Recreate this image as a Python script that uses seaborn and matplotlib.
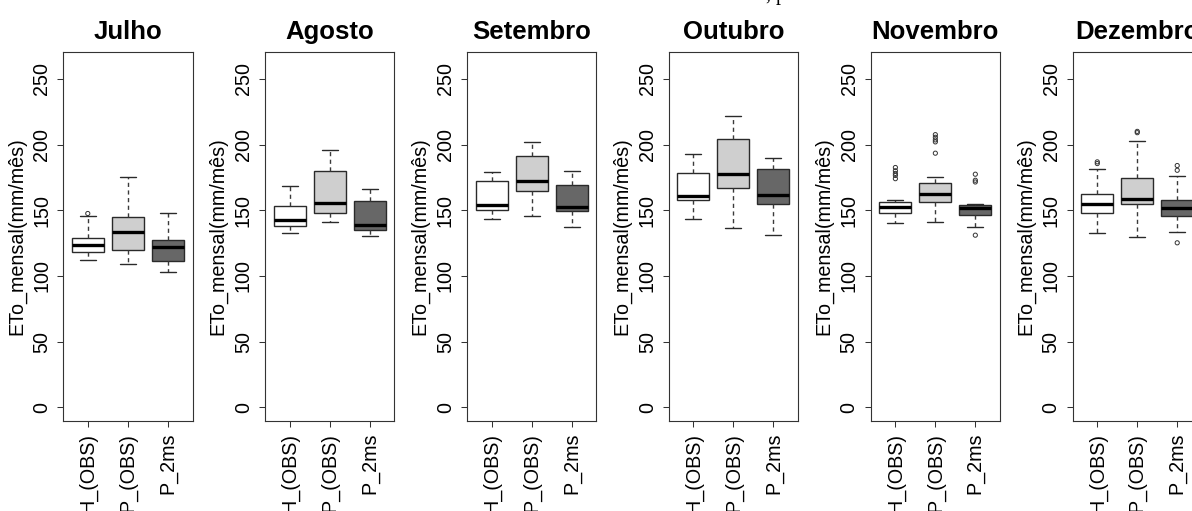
import numpy as np
import pandas as pd
import matplotlib
matplotlib.use("Agg")
import matplotlib.pyplot as plt
import seaborn as sns

# ---- data -----------------------------------------------------------------
meses = ["Julho", "Agosto", "Setembro", "Outubro", "Novembro", "Dezembro"]
grupos = ["H_(OBS)", "P_(OBS)", "P_2ms"]

# five-number summaries per month: [lower whisker, Q1, median, Q3, upper whisker]
h_obs = [
    [112.0, 118.0, 123.3, 129.0, 145.5],
    [133.0, 138.1, 142.2, 153.4, 168.4],
    [143.5, 149.8, 154.2, 172.5, 179.1],
    [143.5, 158.0, 160.8, 178.7, 192.7],
    [140.4, 147.6, 152.4, 156.5, 158.0],
    [132.5, 147.8, 154.4, 162.1, 181.7],
]
p_obs = [
    [108.8, 119.5, 133.3, 144.7, 175.3],
    [141.2, 147.6, 155.7, 179.7, 195.5],
    [145.5, 164.6, 172.5, 191.1, 201.8],
    [136.1, 166.7, 177.6, 204.1, 221.5],
    [141.2, 156.5, 162.3, 171.0, 175.3],
    [129.7, 155.0, 158.8, 174.5, 202.8],
]
p_2ms = [
    [102.7, 111.4, 121.8, 127.4, 147.8],
    [130.5, 135.3, 139.1, 157.3, 165.9],
    [137.1, 149.1, 152.7, 169.2, 179.7],
    [131.3, 155.0, 161.5, 181.0, 189.6],
    [136.9, 146.3, 151.4, 154.2, 154.7],
    [133.3, 145.8, 151.6, 157.7, 176.1],
]

# values beyond the whiskers
h_obs_out = [[147.5], [], [], [], [174.0, 176.5, 178.0, 180.0, 182.5], [185.5, 186.8]]
p_obs_out = [[], [], [], [], [193.4, 202.0, 203.5, 205.5, 207.5], [209.0, 210.0]]
p_2ms_out = [[], [], [], [], [131.0, 171.5, 172.8, 177.4], [125.2, 180.4, 184.0]]

cores = ["#FFFFFF", "#CFCFCF", "#676767"]

# ---- long tables ----------------------------------------------------------
rows, rows_out = [], []
for grupo, resumo, fora in zip(grupos, [h_obs, p_obs, p_2ms],
                               [h_obs_out, p_obs_out, p_2ms_out]):
    for mes, vals, out in zip(meses, resumo, fora):
        rows += [(mes, grupo, v) for v in vals]
        rows_out += [(mes, grupo, v) for v in out]
df = pd.DataFrame(rows, columns=["mes", "grupo", "valor"])
df_out = pd.DataFrame(rows_out, columns=["mes", "grupo", "valor"])

# ---- figure ---------------------------------------------------------------
sns.set_theme(style="ticks")
plt.rcParams["font.family"] = ["Liberation Sans", "DejaVu Sans"]

W, H = 1192, 511
fig = plt.figure(figsize=(W / 100, H / 100), dpi=100)

frame = "#333333"
for i, mes in enumerate(meses):
    ax = fig.add_axes([(63 + 201.9 * i) / W, (H - 421) / H, 129.5 / W, 369 / H])
    d = df[df["mes"] == mes]
    sns.boxplot(
        data=d, x="grupo", y="valor", hue="grupo",
        order=grupos, hue_order=grupos, palette=cores,
        whis=(0, 100), showfliers=False, width=0.8,
        linecolor="#2a2a2a", linewidth=1.0,
        medianprops=dict(color="black", linewidth=2.4),
        whiskerprops=dict(linestyle=(0, (3, 2.5)), color="#3a3a3a"),
        legend=False, ax=ax,
    )
    o = df_out[df_out["mes"] == mes]
    if len(o):
        n0 = len(ax.collections)
        sns.stripplot(data=o, x="grupo", y="valor", order=grupos,
                      jitter=False, color="#333333", size=3.0, ax=ax)
        for coll in ax.collections[n0:]:
            coll.set_facecolor("none")
            coll.set_edgecolor("#333333")
            coll.set_linewidth(0.7)

    ax.set_xlim(-0.62, 2.62)
    ax.set_ylim(-10.4, 270.4)
    ax.set_yticks(range(0, 251, 50))
    ax.set_xlabel("")
    ax.set_ylabel("ETo_mensal(mm/mês)", fontsize=14.2, color="black")
    ax.yaxis.set_label_coords(-0.286, 0.5)
    ax.set_title(mes, fontsize=18.5, fontweight="bold", pad=9.5, color="black")

    for s in ax.spines.values():
        s.set_visible(True)
        s.set_linewidth(0.8)
        s.set_color(frame)
    ax.tick_params(axis="both", direction="out", length=4.3, width=0.75,
                   color=frame, labelsize=14.2, pad=4.3, labelcolor="black")
    ax.tick_params(axis="x", labelrotation=90)
    ax.tick_params(axis="y", labelrotation=90)
    plt.setp(ax.get_yticklabels(), va="center")

# overall heading running off the top edge
fig.text(766 / W, 1.0, ", p", family=["Liberation Serif", "DejaVu Serif"],
         fontsize=14.5, ha="left", va="baseline", color="black")

fig.savefig("out.png", dpi=100)
